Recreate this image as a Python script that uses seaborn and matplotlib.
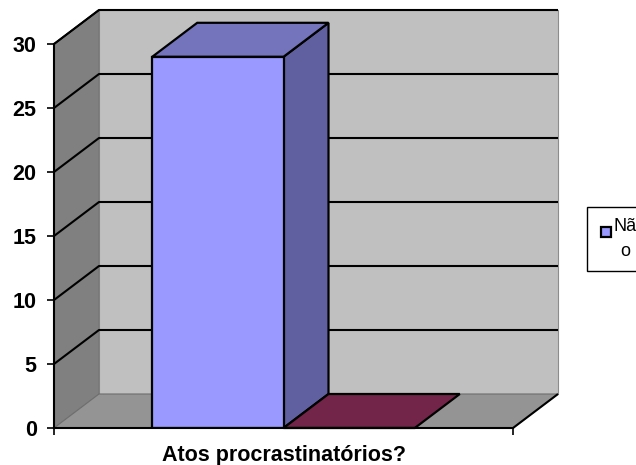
import matplotlib
matplotlib.use("Agg")
import matplotlib.pyplot as plt
from matplotlib.legend_handler import HandlerPatch
from matplotlib.patches import Polygon, Patch, Rectangle
import pandas as pd
import seaborn as sns

# Chart content
category = ["Atos procrastinatórios?"]
series_names = ["Não", "Sim"]
series_values = [29, 0]
y_ticks = [0, 5, 10, 15, 20, 25, 30]

# Face colours of each bar: front, top, side
front_colors = ["#9999FF", "#722548"]
top_colors = ["#7474BC", "#722548"]
side_colors = ["#6060A0", "#5A1C38"]

sns.set_theme(style="white")
plt.rcParams["font.family"] = ["Liberation Sans", "DejaVu Sans"]

W, H = 636, 465
fig = plt.figure(figsize=(W / 100, H / 100), dpi=100, facecolor="white")
ax = fig.add_axes([54 / W, (H - 428) / H, (513 - 54) / W, (428 - 44) / H])
ax.patch.set_visible(False)

table = pd.DataFrame({
    "categoria": category * len(series_names),
    "resposta": series_names,
    "valor": series_values,
})
sns.barplot(data=table, x="categoria", y="valor", hue="resposta",
            palette=front_colors, width=0.572, gap=0, saturation=1,
            edgecolor="black", linewidth=1.6, legend=False, ax=ax, zorder=5)

ax.set_xlim(-0.5, 0.5)
ax.set_ylim(0, 30)

# Oblique depth of the box, in data units
DX = 45 / 459
DY = 34 / 12.8
X0, X1 = -0.5, 0.5
Y_TOP = y_ticks[-1]


def face(points, color, edge="none", lw=0.0, z=1):
    ax.add_patch(Polygon(points, closed=True, facecolor=color, edgecolor=edge,
                         linewidth=lw, clip_on=False, zorder=z))


def line(xs, ys, color="black", lw=1.5, z=2):
    ax.plot(xs, ys, color=color, lw=lw, clip_on=False, zorder=z,
            solid_capstyle="butt")


# Back wall, side wall and floor
face([(X0 + DX, DY), (X1 + DX, DY), (X1 + DX, Y_TOP + DY), (X0 + DX, Y_TOP + DY)], "#C0C0C0", "#8C8C8C", 0.8)
face([(X0, 0), (X0 + DX, DY), (X0 + DX, Y_TOP + DY), (X0, Y_TOP)], "#808080", "#707070", 0.6)
face([(X0, 0), (X1, 0), (X1 + DX, DY), (X0 + DX, DY)], "#949494", "#6E6E6E", 0.8)

# Gridlines running along the side wall and the back wall
for v in y_ticks[1:]:
    line([X0, X0 + DX, X1 + DX], [v, v + DY, v + DY])
line([X0, X0 + DX], [Y_TOP, Y_TOP + DY], lw=1.2)
line([X1, X1 + DX], [0, DY], lw=1.5)

# Top and side faces extruded from each bar
for bar, top, side in zip(ax.patches[:len(series_values)], top_colors, side_colors):
    x, w, h = bar.get_x(), bar.get_width(), bar.get_height()
    bar.set_zorder(5)
    if h > 0:
        face([(x + w, 0), (x + w + DX, DY), (x + w + DX, h + DY), (x + w, h)], side, "black", 1.6, z=4)
    face([(x, h), (x + w, h), (x + w + DX, h + DY), (x + DX, h + DY)], top, "black", 1.6, z=4)

# Axes dressing
sns.despine(ax=ax, top=True, right=True)
for name in ("left", "bottom"):
    ax.spines[name].set_color("black")
    ax.spines[name].set_linewidth(1.5)
    ax.spines[name].set_zorder(6)

ax.set_yticks(y_ticks)
ax.set_xticks([X0, X1], ["", ""])
ax.tick_params(axis="both", which="major", length=5, width=1.2, color="black",
               left=True, bottom=True)
ax.tick_params(axis="y", pad=7.5)
for t in ax.get_yticklabels():
    t.set_fontsize(15.5)
    t.set_fontweight("bold")
    t.set_color("black")
ax.set_ylabel("")
ax.set_xlabel(category[0], fontsize=15.5, fontweight="bold", color="black", labelpad=4)


def small_swatch(legend, orig_handle, xdescent, ydescent, width, height, fontsize):
    # Square key set on the first text line instead of the block's baseline
    return Rectangle((-xdescent + 2, -ydescent + 6), 7.2, 7.2)


# Legend box runs past the right edge of the figure
legend = fig.legend(handles=[Patch(facecolor=front_colors[0], edgecolor="black", linewidth=1.6, label="Nã\no")],
                    handler_map={Patch: HandlerPatch(patch_func=small_swatch)},
                    loc="upper left", bbox_to_anchor=(587 / W, (H - 207) / H),
                    bbox_transform=fig.transFigure, borderaxespad=0, fontsize=13,
                    frameon=True, fancybox=False, framealpha=1, edgecolor="black",
                    handlelength=0.76, handleheight=0.7, handletextpad=0.1, borderpad=0.6,
                    labelcolor="black")
legend.get_texts()[0].set_multialignment("center")
legend.get_texts()[0].set_linespacing(1.62)

fig.savefig("out.png", dpi=100)
